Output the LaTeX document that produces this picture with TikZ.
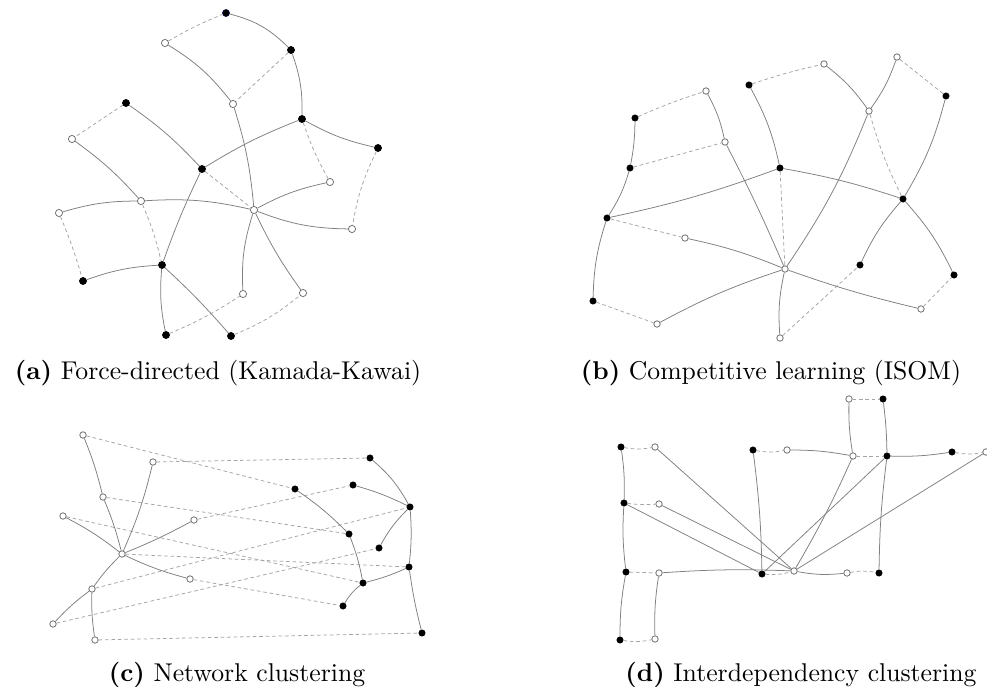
\documentclass[tikz,border=0pt]{standalone}
\usetikzlibrary{calc}
\definecolor{sgray}{RGB}{128,128,128}
\definecolor{dgray}{RGB}{165,165,165}
\definecolor{ogray}{RGB}{110,110,110}
\definecolor{navyish}{RGB}{20,20,90}
\begin{document}
\begin{tikzpicture}[x=0.389pt,y=-0.389pt,
  fnode/.style={circle,fill=black,draw=black,inner sep=0pt,minimum size=2.8pt,line width=0.2pt},
  onode/.style={circle,fill=white,draw=ogray,inner sep=0pt,minimum size=2.8pt,line width=0.3pt},
  fsmall/.style={fnode,minimum size=2.5pt},
  osmall/.style={onode,minimum size=2.5pt},
  sedge/.style={draw=sgray,line width=0.3pt},
  dedge/.style={draw=dgray,line width=0.3pt,dash pattern=on 1.4pt off 1.1pt},
  captext/.style={anchor=base,font=\normalsize,inner sep=0pt}]
\useasboundingbox (0,0) rectangle (987,687);

% ---------------- panel (a)
\node[fnode,draw=navyish] (a1) at (226,13) {};
\node[onode] (a2) at (165,43) {};
\node[fnode] (a3) at (291,50) {};
\node[onode] (a4) at (233,104) {};
\node[fnode] (a5) at (126,103) {};
\node[fnode] (a6) at (302,119) {};
\node[onode] (a7) at (72,139) {};
\node[fnode] (a8) at (378,148) {};
\node[fnode] (a9) at (202,169) {};
\node[onode] (a10) at (330,182) {};
\node[onode] (a11) at (141,201) {};
\node[onode] (a12) at (254,210) {};
\node[onode] (a13) at (59,213) {};
\node[onode] (a14) at (352,229) {};
\node[fnode] (a15) at (162,265) {};
\node[fnode] (a16) at (83,281) {};
\node[onode] (a17) at (243,294) {};
\node[onode] (a18) at (303,293) {};
\node[fnode] (a19) at (166,335) {};
\node[fnode] (a20) at (231,336) {};

\path[dedge] (a2) to[bend left=4] (a1);
\path[dedge] (a3) to (a4);
\path[dedge] (a5) to (a7);
\path[dedge] (a6) to[bend right=5] (a10);
\path[dedge] (a8) to[bend right=8] (a14);
\path[dedge] (a9) to (a12);
\path[dedge] (a11) to[bend left=5] (a15);
\path[dedge] (a13) to[bend left=3] (a16);
\path[dedge] (a19) to[bend right=5] (a17);
\path[dedge] (a20) to[bend right=8] (a18);

\path[sedge] (a1) to[bend left=15] (a3);
\path[sedge] (a2) to[bend left=10] (a4);
\path[sedge] (a3) to[bend left=10] (a6);
\path[sedge] (a4) to[bend left=6] (a12);
\path[sedge] (a5) to[bend left=6] (a9);
\path[sedge] (a7) to[bend left=6] (a11);
\path[sedge] (a9) to[bend left=5] (a6);
\path[sedge] (a6) to[bend right=8] (a8);
\path[sedge] (a12) to[bend left=8] (a10);
\path[sedge] (a12) to[bend right=10] (a14);
\path[sedge] (a13) to[bend left=8] (a11);
\path[sedge] (a11) to[bend left=8] (a12);
\path[sedge] (a16) to[bend left=8] (a15);
\path[sedge] (a9) to[bend right=3] (a15);
\path[sedge] (a15) to[bend right=8] (a19);
\path[sedge] (a15) to[bend left=3] (a20);
\path[sedge] (a12) to[bend right=10] (a17);
\path[sedge] (a12) to[bend right=5] (a18);

% ---------------- panel (b)
\node[osmall] (b1) at (897,57) {};
\node[osmall] (b2) at (824,64) {};
\node[fsmall] (b3) at (749,85) {};
\node[osmall] (b4) at (706,91) {};
\node[fsmall] (b5) at (946,96) {};
\node[osmall] (b6) at (869,111) {};
\node[fsmall] (b7) at (635,118) {};
\node[osmall] (b8) at (725,142) {};
\node[fsmall] (b9) at (630,168) {};
\node[fsmall] (b10) at (780,168) {};
\node[fsmall] (b11) at (903,199) {};
\node[fsmall] (b12) at (607,218) {};
\node[osmall] (b13) at (685,238) {};
\node[fsmall] (b14) at (860,265) {};
\node[osmall] (b15) at (785,269) {};
\node[fsmall] (b16) at (954,275) {};
\node[fsmall] (b17) at (593,301) {};
\node[osmall] (b18) at (921,309) {};
\node[osmall] (b19) at (657,324) {};
\node[osmall] (b20) at (780,338) {};

\path[dedge] (b3) to[bend left=3] (b2);
\path[dedge] (b1) to (b5);
\path[dedge] (b6) to[bend right=5] (b11);
\path[dedge] (b7) to[bend left=3] (b4);
\path[dedge] (b9) to (b8);
\path[dedge] (b10) to (b15);
\path[dedge] (b12) to (b13);
\path[dedge] (b17) to (b19);
\path[dedge] (b18) to (b16);
\path[dedge] (b20) to (b14);

\path[sedge] (b2) to[bend left=8] (b6);
\path[sedge] (b1) to[bend left=8] (b6);
\path[sedge] (b6) to[bend left=6] (b15);
\path[sedge] (b5) to[bend left=8] (b11);
\path[sedge] (b4) to[bend left=8] (b8);
\path[sedge] (b7) to[bend left=5] (b9);
\path[sedge] (b8) to[bend left=2] (b15);
\path[sedge] (b3) to[bend left=8] (b10);
\path[sedge] (b10) to[bend left=4] (b11);
\path[sedge] (b9) to[bend left=8] (b12);
\path[sedge] (b12) to[bend right=4] (b10);
\path[sedge] (b13) to[bend left=5] (b15);
\path[sedge] (b11) to[bend right=8] (b14);
\path[sedge] (b11) to[bend left=8] (b16);
\path[sedge] (b12) to[bend right=8] (b17);
\path[sedge] (b19) to[bend left=5] (b15);
\path[sedge] (b15) to[bend right=3] (b18);
\path[sedge] (b15) to[bend right=8] (b20);

% ---------------- panel (c)
\node[osmall] (c1) at (83,435) {};
\node[osmall] (c2) at (153,462) {};
\node[fsmall] (c3) at (370,458) {};
\node[fsmall] (c4) at (295,489) {};
\node[fsmall] (c5) at (353,485) {};
\node[osmall] (c6) at (103,497) {};
\node[fsmall] (c7) at (410,507) {};
\node[osmall] (c8) at (63,516) {};
\node[osmall] (c9) at (194,520) {};
\node[fsmall] (c10) at (349,534) {};
\node[fsmall] (c11) at (379,548) {};
\node[osmall] (c12) at (122,554) {};
\node[fsmall] (c13) at (409,567) {};
\node[osmall] (c14) at (190,579) {};
\node[fsmall] (c15) at (363,583) {};
\node[osmall] (c16) at (92,589) {};
\node[fsmall] (c17) at (343,606) {};
\node[osmall] (c18) at (53,624) {};
\node[osmall] (c19) at (95,640) {};
\node[fsmall] (c20) at (422,633) {};

\path[dedge] (c1) to (c4);
\path[dedge] (c2) to (c3);
\path[dedge] (c6) to (c10);
\path[dedge] (c9) to (c5);
\path[dedge] (c8) to (c15);
\path[dedge] (c12) to (c13);
\path[dedge] (c14) to (c17);
\path[dedge] (c16) to (c7);
\path[dedge] (c18) to (c11);
\path[dedge] (c19) to (c20);

\path[sedge] (c1) to[bend left=4] (c6);
\path[sedge] (c6) to[bend left=4] (c12);
\path[sedge] (c2) to[bend left=5] (c12);
\path[sedge] (c8) to[bend left=5] (c12);
\path[sedge] (c12) to[bend right=3] (c9);
\path[sedge] (c12) to[bend right=5] (c14);
\path[sedge] (c12) to[bend right=5] (c16);
\path[sedge] (c16) to[bend right=5] (c18);
\path[sedge] (c16) to[bend right=5] (c19);
\path[sedge] (c3) to[bend left=10] (c7);
\path[sedge] (c5) to[bend left=5] (c7);
\path[sedge] (c7) to[bend right=8] (c11);
\path[sedge] (c7) to[bend left=5] (c13);
\path[sedge] (c13) to[bend right=3] (c20);
\path[sedge] (c4) to[bend left=5] (c10);
\path[sedge] (c10) to[bend left=5] (c15);
\path[sedge] (c15) to[bend right=5] (c13);
\path[sedge] (c15) to[bend right=10] (c17);

% ---------------- panel (d)
\node[fsmall] (d1) at (621,447) {};
\node[osmall] (d2) at (655,447) {};
\node[fsmall] (d3) at (753,450) {};
\node[osmall] (d4) at (787,450) {};
\node[osmall] (d5) at (853,456) {};
\node[fsmall] (d6) at (887,456) {};
\node[fsmall] (d7) at (952,452) {};
\node[osmall] (d8) at (986,452) {};
\node[fsmall] (d9) at (624,503) {};
\node[osmall] (d10) at (659,504) {};
\node[fsmall] (d11) at (626,572) {};
\node[osmall] (d12) at (659,573) {};
\node[fsmall] (d13) at (762,574) {};
\node[osmall] (d14) at (794,571) {};
\node[osmall] (d15) at (847,573) {};
\node[fsmall] (d16) at (879,573) {};
\node[fsmall] (d17) at (620,640) {};
\node[osmall] (d18) at (655,639) {};
\node[osmall] (d19) at (849,399) {};
\node[fsmall] (d20) at (883,399) {};

\path[dedge] (d1) to[bend right=10] (d2);
\path[dedge] (d3) to[bend right=10] (d4);
\path[dedge] (d5) to (d6);
\path[dedge] (d7) to[bend right=10] (d8);
\path[dedge] (d9) to[bend right=5] (d10);
\path[dedge] (d11) to (d12);
\path[dedge] (d13) to[bend right=10] (d14);
\path[dedge] (d15) to[bend left=10] (d16);
\path[dedge] (d17) to[bend right=10] (d18);
\path[dedge] (d19) to (d20);

\path[sedge] (d1) to[bend left=5] (d9);
\path[sedge] (d9) to[bend right=5] (d11);
\path[sedge] (d11) to[bend right=5] (d17);
\path[sedge] (d12) to[bend right=5] (d18);
\path[sedge] (d3) to[bend left=3] (d13);
\path[sedge] (d4) to[bend left=5] (d5);
\path[sedge] (d5) to[bend left=5] (d19);
\path[sedge] (d6) to[bend right=3] (d20);
\path[sedge] (d6) to[bend right=5] (d7);
\path[sedge] (d6) to[bend right=3] (d16);
\path[sedge] (d5) to[bend left=3] (d14);
\path[sedge] (d12) to[bend left=3] (d14);
\path[sedge] (d14) to[bend right=8] (d15);
\path[sedge] (d9) to (d13);
\path[sedge] (d10) to (d14);
\path[sedge] (d2) to (d14);
\path[sedge] (d6) to (d13);
\path[sedge] (d8) to (d14);

% ---------------- captions
\node[captext] (capa) at (218,379) {\textbf{(a)} Force-directed (Kamada-Kawai)};
\node[captext] (capb) at (771,379) {\textbf{(b)} Competitive learning (ISOM)};
\node[captext] (capc) at (237,681) {\textbf{(c)} Network clustering};
\node[captext] (capd) at (801,681) {\textbf{(d)} Interdependency clustering};
\end{tikzpicture}
\end{document}
